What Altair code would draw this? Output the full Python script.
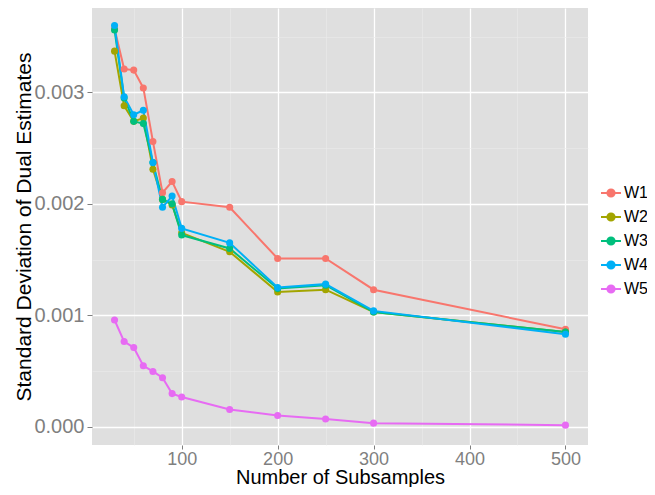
import altair as alt
import pandas as pd

subsamples = [30, 40, 50, 60, 70, 80, 90, 100, 150, 200, 250, 300, 500]
w1 = [0.00357, 0.00321, 0.00320, 0.00304, 0.00256, 0.00210, 0.00220, 0.00202, 0.00197, 0.00151, 0.00151, 0.00123, 0.000875]
w2 = [0.00337, 0.00288, 0.00274, 0.00277, 0.00231, 0.00204, 0.00199, 0.00174, 0.00157, 0.00121, 0.00123, 0.00103, 0.00085]
w3 = [0.00356, 0.00295, 0.00274, 0.00272, 0.00237, 0.00204, 0.00200, 0.00172, 0.00160, 0.00124, 0.00127, 0.00103, 0.00085]
w4 = [0.00360, 0.00296, 0.00280, 0.00284, 0.00237, 0.00197, 0.00207, 0.00178, 0.00165, 0.00125, 0.00128, 0.00104, 0.00083]
w5 = [0.000958, 0.000765, 0.000711, 0.000548, 0.000497, 0.000440, 0.000298, 0.000268, 0.000155, 0.000101, 0.000071, 0.000033, 0.000015]

series_names = ["W1", "W2", "W3", "W4", "W5"]
series_colors = ["#F8766D", "#A3A500", "#00BF7D", "#00B0F6", "#E76BF3"]

rows = []
for name, vals in zip(series_names, [w1, w2, w3, w4, w5]):
    for x, v in zip(subsamples, vals):
        rows.append({"n": x, "sd": v, "series": name})
df = pd.DataFrame(rows)

FONT = "Liberation Sans"
x_ticks = [50, 100, 150, 200, 250, 300, 350, 400, 450, 500]
y_ticks = [0.0, 0.0005, 0.001, 0.0015, 0.002, 0.0025, 0.003, 0.0035]

x_major = "datum.value % 100 === 0"
y_major = "round(datum.value * 10000) % 10 === 0"

x_axis = alt.Axis(
    values=x_ticks,
    labelExpr=f"{x_major} ? datum.label : ''",
    gridColor={"condition": {"test": x_major, "value": "white"}, "value": "#EBEBEB"},
    gridWidth={"condition": {"test": x_major, "value": 1.3}, "value": 0.6},
    tickColor={"condition": {"test": x_major, "value": "#7F7F7F"}, "value": "transparent"},
    tickSize=4,
    labelFontSize=18,
    labelColor="#7F7F7F",
    labelFont=FONT,
    labelPadding=1,
    titleFontSize=20,
    titleFont=FONT,
    titleColor="black",
    titleFontWeight="normal",
    titleBaseline="alphabetic",
    titleY=38,
    domain=False,
    labelFlush=False,
)
y_axis = alt.Axis(
    values=y_ticks,
    format=".3f",
    labelExpr=f"{y_major} ? datum.label : ''",
    gridColor={"condition": {"test": y_major, "value": "white"}, "value": "#EBEBEB"},
    gridWidth={"condition": {"test": y_major, "value": 1.3}, "value": 0.6},
    tickColor={"condition": {"test": y_major, "value": "#7F7F7F"}, "value": "transparent"},
    tickSize=5,
    labelFontSize=20,
    labelColor="#7F7F7F",
    labelFont=FONT,
    labelPadding=3,
    titleFontSize=21,
    titleFont=FONT,
    titleColor="black",
    titleFontWeight="normal",
    titleBaseline="alphabetic",
    titleX=-62,
    titleY=218.5,
    domain=False,
    labelFlush=False,
)

legend_path = "M-1,0H1M-0.36,0A0.36,0.36 0 1,0 0.36,0A0.36,0.36 0 1,0 -0.36,0Z"

color = alt.Color(
    "series:N",
    scale=alt.Scale(domain=series_names, range=series_colors),
    legend=alt.Legend(
        title=None,
        orient="none",
        legendX=508,
        legendY=174,
        symbolType=legend_path,
        symbolSize=400,
        symbolStrokeWidth=2,
        symbolOpacity=1,
        labelFontSize=16,
        labelFont=FONT,
        labelColor="black",
        rowPadding=5,
        labelOffset=2,
    ),
)

base = alt.Chart(df).encode(
    x=alt.X("n:Q", title="Number of Subsamples",
            scale=alt.Scale(domain=[6.5, 523.5], nice=False, zero=False), axis=x_axis),
    y=alt.Y("sd:Q", title="Standard Deviation of Dual Estimates",
            scale=alt.Scale(domain=[-0.000163, 0.003757], nice=False, zero=False), axis=y_axis),
    color=color,
    detail="series:N",
)

lines = base.mark_line(strokeWidth=2, clip=True)
points = base.mark_circle(size=50, opacity=1, clip=True)

chart = alt.layer(lines, points).properties(
    width=496,
    height=437,
    autosize=alt.AutoSizeParams(type="none"),
    padding={"left": 84, "top": 0, "right": 59, "bottom": 42},
).configure_view(
    fill="#DFDFDF",
    stroke=None,
)

chart.save("out.html", embed_options={"renderer": "svg", "actions": False})
